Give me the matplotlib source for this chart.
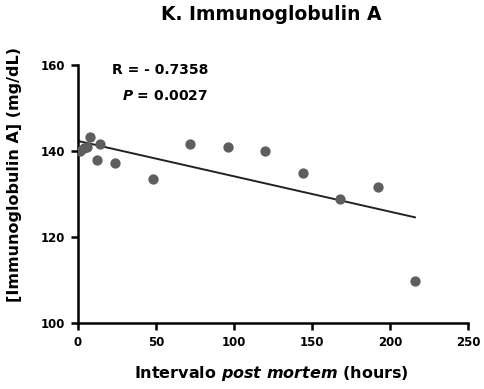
import numpy as np
import matplotlib.pyplot as plt

plt.rcParams['font.family'] = ['DejaVu Sans']
plt.rcParams['font.weight'] = 'bold'
plt.rcParams['axes.labelweight'] = 'bold'
plt.rcParams['mathtext.fontset'] = 'custom'
plt.rcParams['mathtext.rm'] = 'DejaVu Sans:bold'
plt.rcParams['mathtext.it'] = 'DejaVu Sans:bold:italic'
plt.rcParams['mathtext.bf'] = 'DejaVu Sans:bold'

# data
horas = [1, 4, 6, 8, 12, 14, 24, 48, 72, 96, 120, 144, 168, 192, 216]
iga = [140.1, 140.6, 141.0, 143.2, 137.8, 141.6, 137.2, 133.5, 141.6, 141.0, 140.0, 134.8, 128.8, 131.6, 109.8]
r_txt = 'R = - 0.7358'
p_txt = '$P$ = 0.0027'

x = np.array(horas)
y = np.array(iga)
m, b = np.polyfit(x, y, 1)
xx = np.array([0, x.max()])

fig = plt.figure(figsize=(4.84, 3.89), dpi=100)
ax = fig.add_axes([78/484, 1-323/389, 390/484, 258/389])

ax.scatter(x, y, s=55, color='#5e5e5e', zorder=3, linewidths=0)
ax.plot(xx, m*xx + b, color='#222222', lw=1.4, zorder=2)

ax.set_xlim(0, 250)
ax.set_ylim(100, 160)
ax.set_xticks([0, 50, 100, 150, 200, 250])
ax.set_yticks([100, 120, 140, 160])
for s in ['top', 'right']:
    ax.spines[s].set_visible(False)
for s in ['left', 'bottom']:
    ax.spines[s].set_linewidth(1.8)
ax.tick_params(width=1.8, length=5, labelsize=8.5, pad=4)
for t in ax.get_xticklabels() + ax.get_yticklabels():
    t.set_fontweight('bold')

fig.text(271/484, 1-15/389, 'K. Immunoglobulin A', fontsize=13.5, fontweight='bold',
         ha='center', va='center')
ax.set_xlabel('Intervalo $post\\ mortem$ (hours)', fontsize=11.5, va='center')
ax.xaxis.set_label_coords(0.497, -0.194)
ax.set_ylabel('[Immunoglobulin A] (mg/dL)', fontsize=11.5, va='center')
ax.yaxis.set_label_coords(-0.163, 0.574)

ax.text(22, 158.8, r_txt, fontsize=10, va='center')
ax.text(28, 152.8, p_txt, fontsize=10, va='center')

fig.savefig('out.png', dpi=100)
